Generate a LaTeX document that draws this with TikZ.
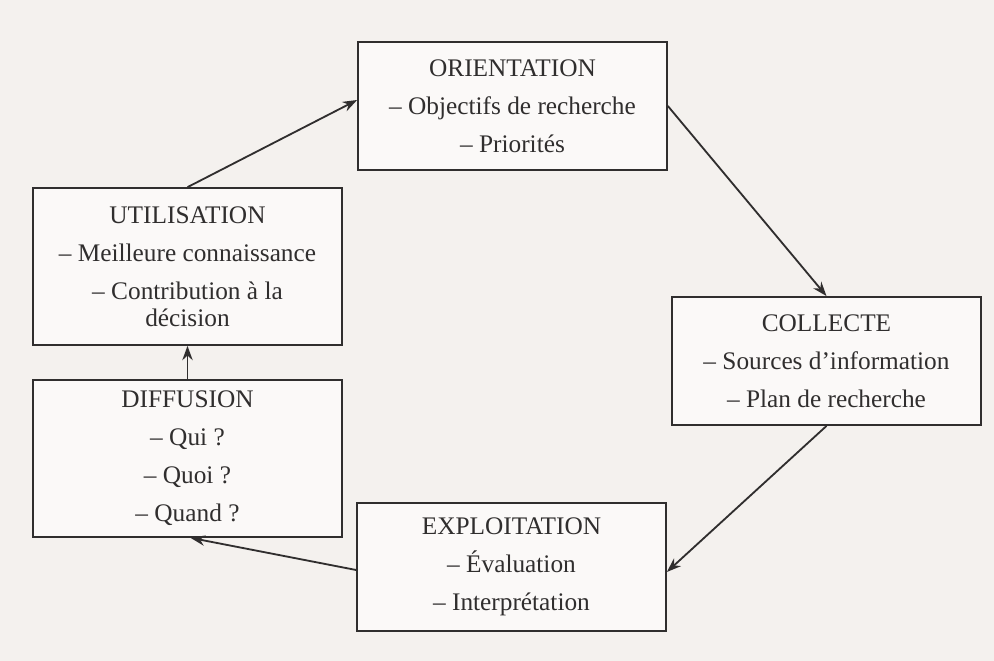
\documentclass[tikz,border=0pt]{standalone}
\usepackage{fontspec}
\setmainfont{Liberation Serif}
\usetikzlibrary{arrows.meta,positioning,calc}
\definecolor{page}{RGB}{244,241,238}
\definecolor{ink}{RGB}{48,46,46}
\tikzset{
  etape/.style  = { draw=ink, line width=1.3pt, fill=white!60!page, text=ink,
    align=center, minimum width=7.72cm, inner sep=0pt,
    font=\fontsize{18}{27}\selectfont },
  court/.style  = { etape, minimum height=3.2cm },
  long/.style   = { etape, minimum height=3.92cm },
  fleche/.style = { draw=ink, line width=1.3pt, -{Stealth[length=3.6mm,width=2.6mm]} }
}
\begin{document}
\begin{tikzpicture}[x=0.025cm,y=-0.025cm]
      \fill[page] (0,0) rectangle (994,661);
      \useasboundingbox (0,0) rectangle (994,661);
      % les cinq etapes
      \node[court] (orient) at (512.5,106) {ORIENTATION\\-- Objectifs de recherche\\-- Priorités};
      \node[long]  (util)   at (187.5,266.5) {UTILISATION\\-- Meilleure connaissance\\-- Contribution à la\\[-8pt]décision};
      \node[long]  (diff)   at (187.5,458.5) {DIFFUSION\\-- Qui ?\\-- Quoi ?\\-- Quand ?};
      \node[court] (coll)   at (826.5,361) {COLLECTE\\-- Sources d’information\\-- Plan de recherche};
      \node[court] (expl)   at (511.5,567) {EXPLOITATION\\-- Évaluation\\-- Interprétation};
      % le cycle
      \path[fleche] (util.north) -- ($(orient.west)+(0,-6)$);
      \path[fleche] (orient.east) -- (coll.north);
      \path[fleche] (coll.south) -- ($(expl.east)+(0,5)$);
      \path[fleche] ($(expl.west)+(0,3)$) -- ($(diff.south)+(3,0)$);
      \path[fleche] (diff.north) -- (util.south);
\end{tikzpicture}
\end{document}
